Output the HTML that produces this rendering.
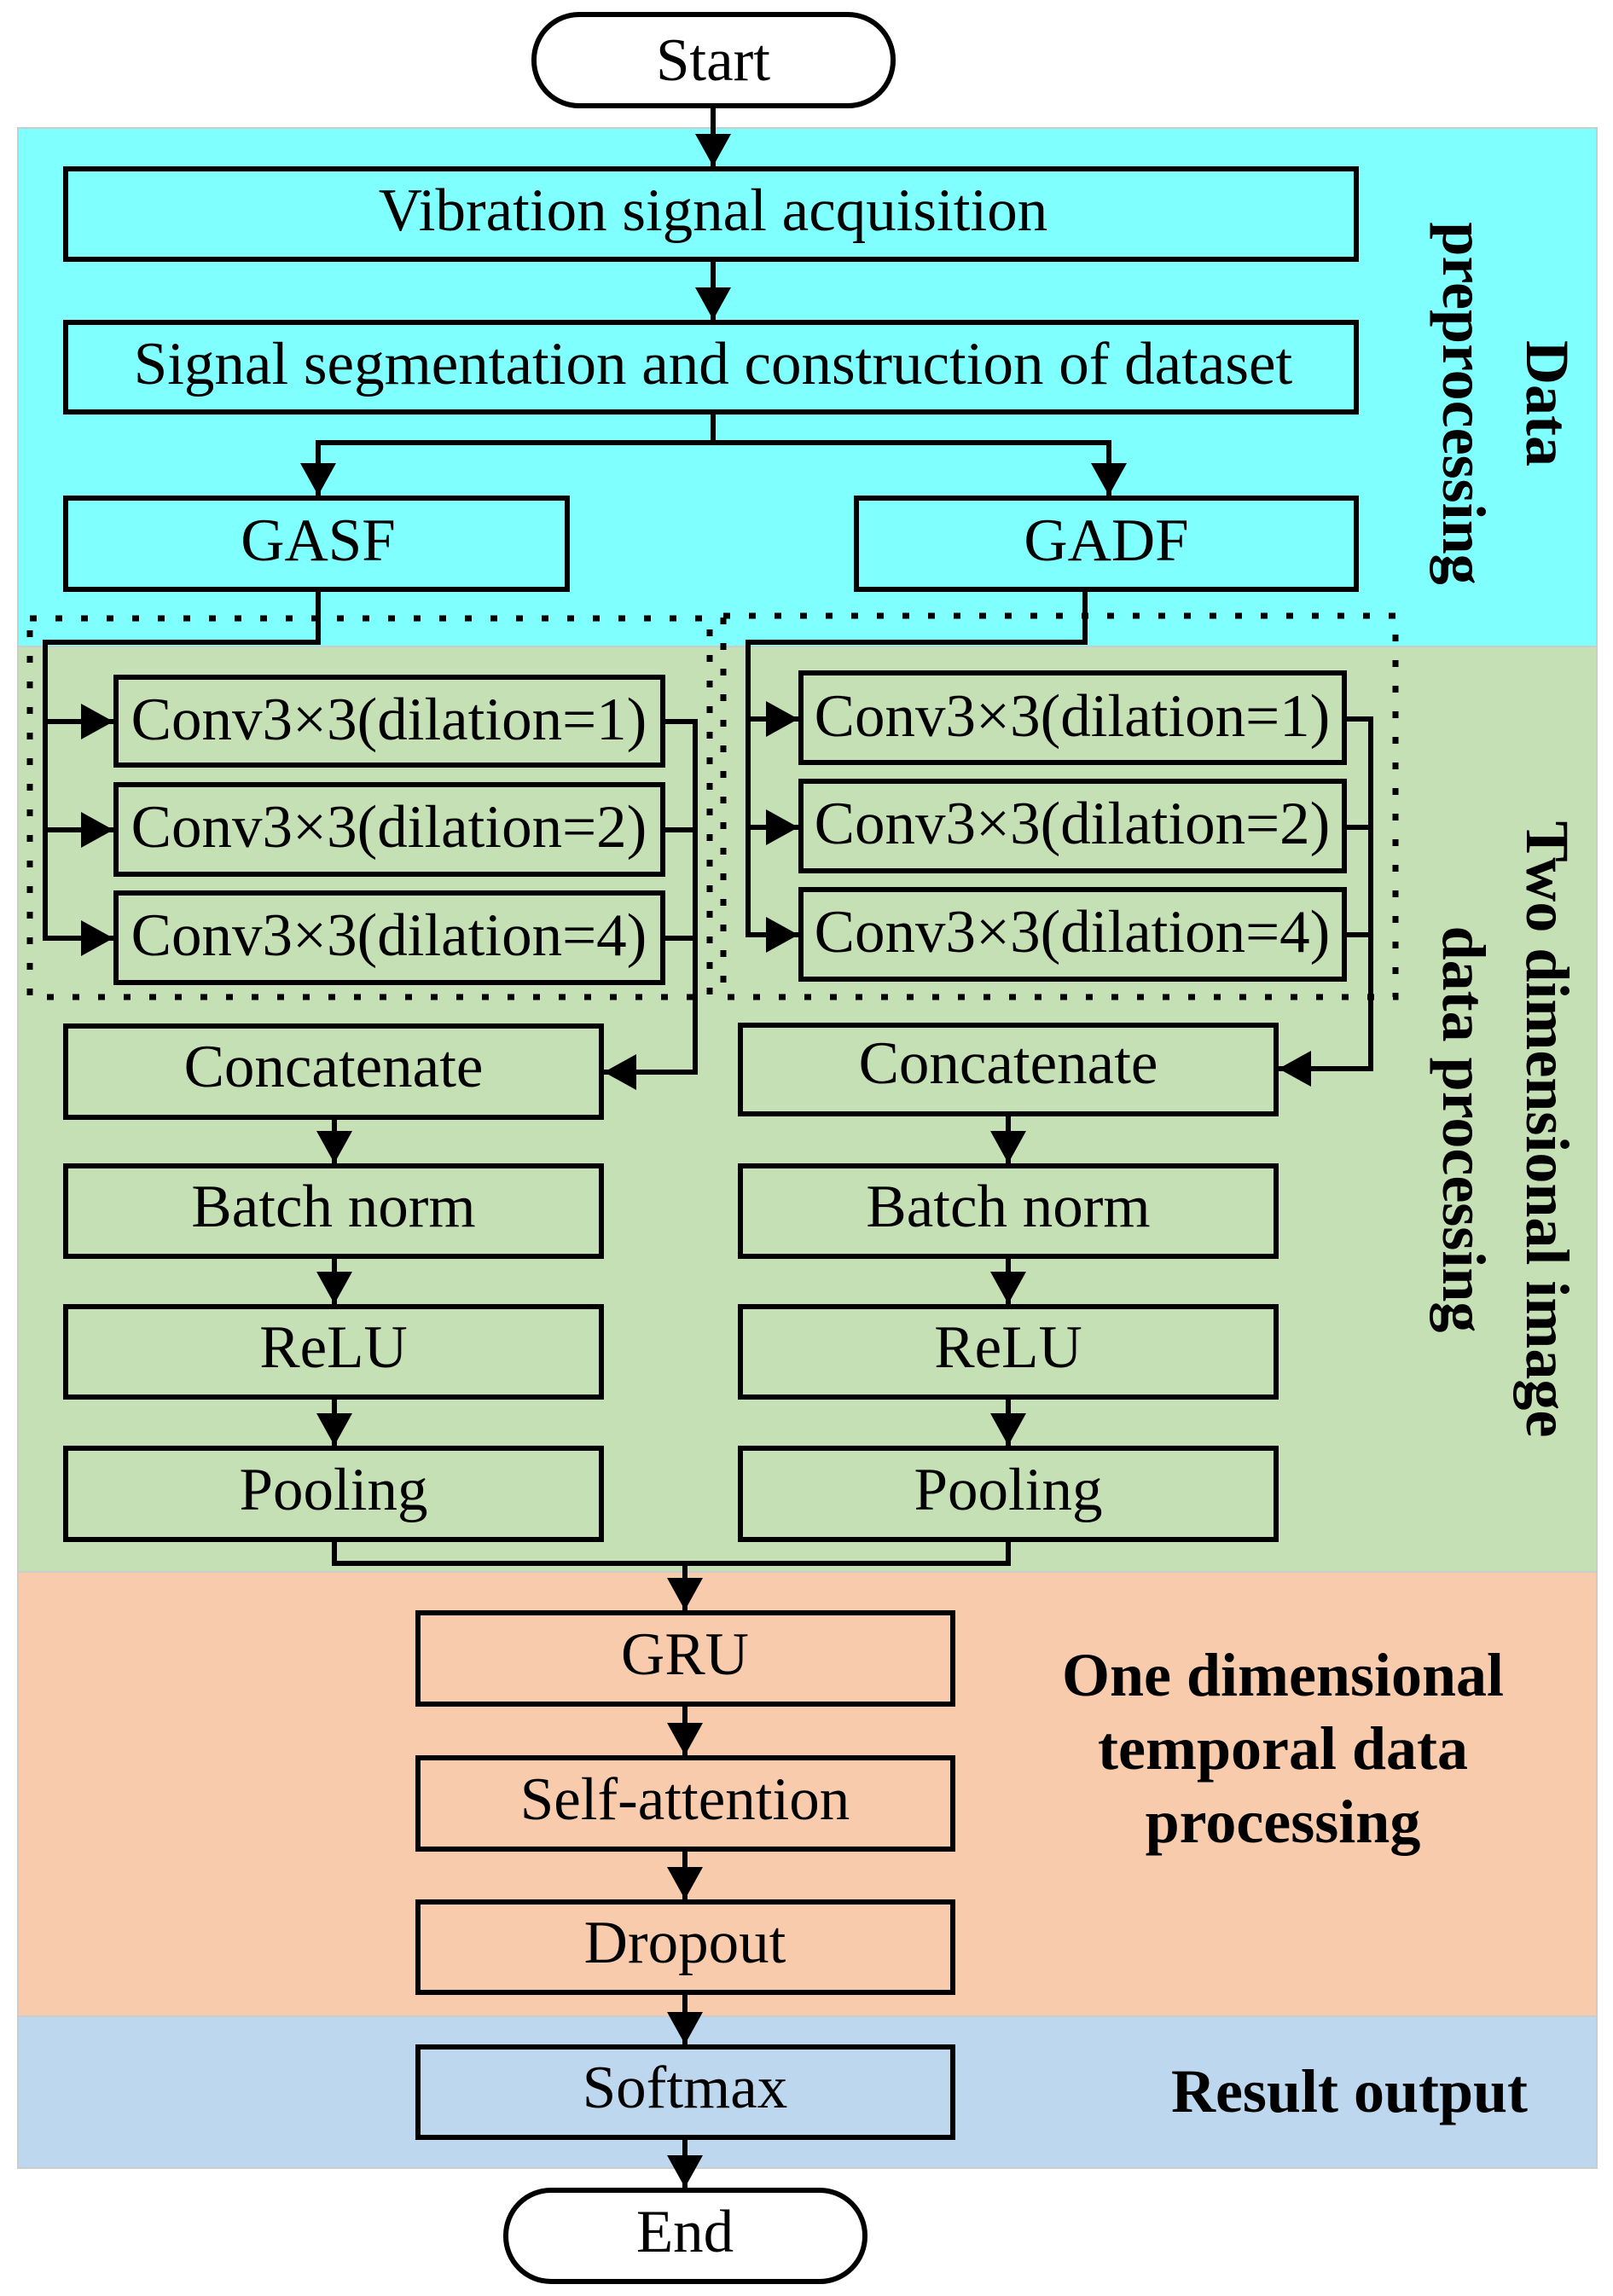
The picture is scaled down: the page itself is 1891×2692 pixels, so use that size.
<!DOCTYPE html>
<html><head><meta charset="utf-8"><style>html,body{margin:0;padding:0;background:#fff}svg{display:block}</style></head><body>
<svg width="1891" height="2692" viewBox="0 0 1891 2692" xmlns="http://www.w3.org/2000/svg" font-family="'Liberation Serif', serif">
<defs>
<marker id="a" markerWidth="38" markerHeight="42" refX="38" refY="21" orient="auto" markerUnits="userSpaceOnUse" viewBox="0 0 38 42"><path d="M0,0 L38,21 L0,42 z" fill="#000"/></marker>
</defs>
<rect x="21" y="150" width="1851" height="608" fill="#80FFFF" stroke="#ccc" stroke-width="2"/>
<rect x="21" y="758" width="1851" height="1085" fill="#C5E0B4" stroke="#ccc" stroke-width="2"/>
<rect x="21" y="1843" width="1851" height="521" fill="#F8CBAD" stroke="#ccc" stroke-width="2"/>
<rect x="21" y="2364" width="1851" height="178" fill="#BDD7EE" stroke="#ccc" stroke-width="2"/>

<g stroke="#000" fill="none">
<rect x="35" y="725" width="797" height="444" stroke-dasharray="8 22" stroke-width="7"/>
<rect x="848" y="722" width="788" height="447" stroke-dasharray="8 22" stroke-width="7"/>
</g>

<g stroke="#000" stroke-width="6">
<rect x="626" y="17" width="421" height="107" rx="53" fill="#fff"/>
<rect x="593" y="2568" width="421" height="107" rx="53" fill="#fff"/>
<g fill="#80FFFF">
<rect x="77" y="198" width="1513" height="106"/>
<rect x="77" y="378" width="1513" height="105"/>
<rect x="77" y="584" width="588" height="107"/>
<rect x="1004" y="584" width="586" height="107"/>
</g>
<g fill="#C5E0B4">
<rect x="136" y="794" width="641" height="103"/>
<rect x="136" y="920" width="641" height="105"/>
<rect x="136" y="1047" width="641" height="105"/>
<rect x="939" y="789" width="637" height="105"/>
<rect x="939" y="916" width="637" height="105"/>
<rect x="939" y="1043" width="637" height="105"/>
<rect x="77" y="1203" width="628" height="107"/>
<rect x="868" y="1202" width="628" height="104"/>
<rect x="77" y="1367" width="628" height="106"/>
<rect x="868" y="1367" width="628" height="106"/>
<rect x="77" y="1532" width="628" height="106"/>
<rect x="868" y="1532" width="628" height="106"/>
<rect x="77" y="1698" width="628" height="107"/>
<rect x="868" y="1698" width="628" height="107"/>
</g>
<g fill="#F8CBAD">
<rect x="490" y="1891" width="627" height="107"/>
<rect x="490" y="2061" width="627" height="107"/>
<rect x="490" y="2230" width="627" height="106"/>
</g>
<rect x="490" y="2400" width="627" height="106" fill="#BDD7EE"/>
</g>

<g stroke="#000" stroke-width="6" fill="none" marker-end="url(#a)">
<path d="M836,124 V195"/>
<path d="M836,304 V375"/>
<path d="M836,483 V519 H373 V581"/>
<path d="M836,519 H1300 V581"/>
<path d="M373,691 V753 H53 V846 H133"/>
<path d="M53,846 V973 H133"/>
<path d="M53,973 V1100 H133"/>
<path d="M777,846 H815 V1257 H708"/>
<path d="M1272,691 V753 H877 V843 H936"/>
<path d="M877,843 V970 H936"/>
<path d="M877,970 V1096 H936"/>
<path d="M1576,843 H1607 V1253 H1499"/>
<path d="M392,1310 V1364"/>
<path d="M1182,1306 V1364"/>
<path d="M392,1473 V1529"/>
<path d="M1182,1473 V1529"/>
<path d="M392,1638 V1695"/>
<path d="M1182,1638 V1695"/>
<path d="M392,1805 V1833 H803 V1888"/>
<path d="M803,1998 V2058"/>
<path d="M803,2168 V2227"/>
<path d="M803,2336 V2397"/>
<path d="M803,2506 V2565"/>
</g>
<g stroke="#000" stroke-width="6" fill="none">
<path d="M777,973 H815"/><path d="M777,1100 H815"/>
<path d="M1576,970 H1607"/><path d="M1576,1096 H1607"/>
<path d="M1182,1805 V1833 H803"/>
</g>

<g font-size="71" text-anchor="middle" fill="#000">
<text x="836" y="94">Start</text>
<text x="836" y="270">Vibration signal acquisition</text>
<text x="836" y="450">Signal segmentation and construction of dataset</text>
<text x="373" y="657">GASF</text>
<text x="1297" y="657">GADF</text>
<text x="456" y="867">Conv3×3(dilation=1)</text>
<text x="456" y="993">Conv3×3(dilation=2)</text>
<text x="456" y="1120">Conv3×3(dilation=4)</text>
<text x="1257" y="863">Conv3×3(dilation=1)</text>
<text x="1257" y="989">Conv3×3(dilation=2)</text>
<text x="1257" y="1116">Conv3×3(dilation=4)</text>
<text x="391" y="1274">Concatenate</text>
<text x="1182" y="1270">Concatenate</text>
<text x="391" y="1438">Batch norm</text>
<text x="1182" y="1438">Batch norm</text>
<text x="391" y="1603">ReLU</text>
<text x="1182" y="1603">ReLU</text>
<text x="391" y="1770">Pooling</text>
<text x="1182" y="1770">Pooling</text>
<text x="803" y="1963">GRU</text>
<text x="803" y="2133">Self-attention</text>
<text x="803" y="2301">Dropout</text>
<text x="803" y="2471">Softmax</text>
<text x="803" y="2640">End</text>
</g>
<g font-size="72" font-weight="bold" text-anchor="middle" fill="#000">
<text transform="translate(1765,473) rotate(90)"><tspan x="0" y="-25">Data</tspan><tspan x="0" y="73">preprocessing</tspan></text>
<text transform="translate(1765,1324) rotate(90)"><tspan x="0" y="-25">Two dimensional image</tspan><tspan x="0" y="73">data processing</tspan></text>
<text x="1504" y="1988">One dimensional</text>
<text x="1504" y="2074">temporal data</text>
<text x="1504" y="2160">processing</text>
<text x="1582" y="2476">Result output</text>
</g>
</svg>
</body></html>
